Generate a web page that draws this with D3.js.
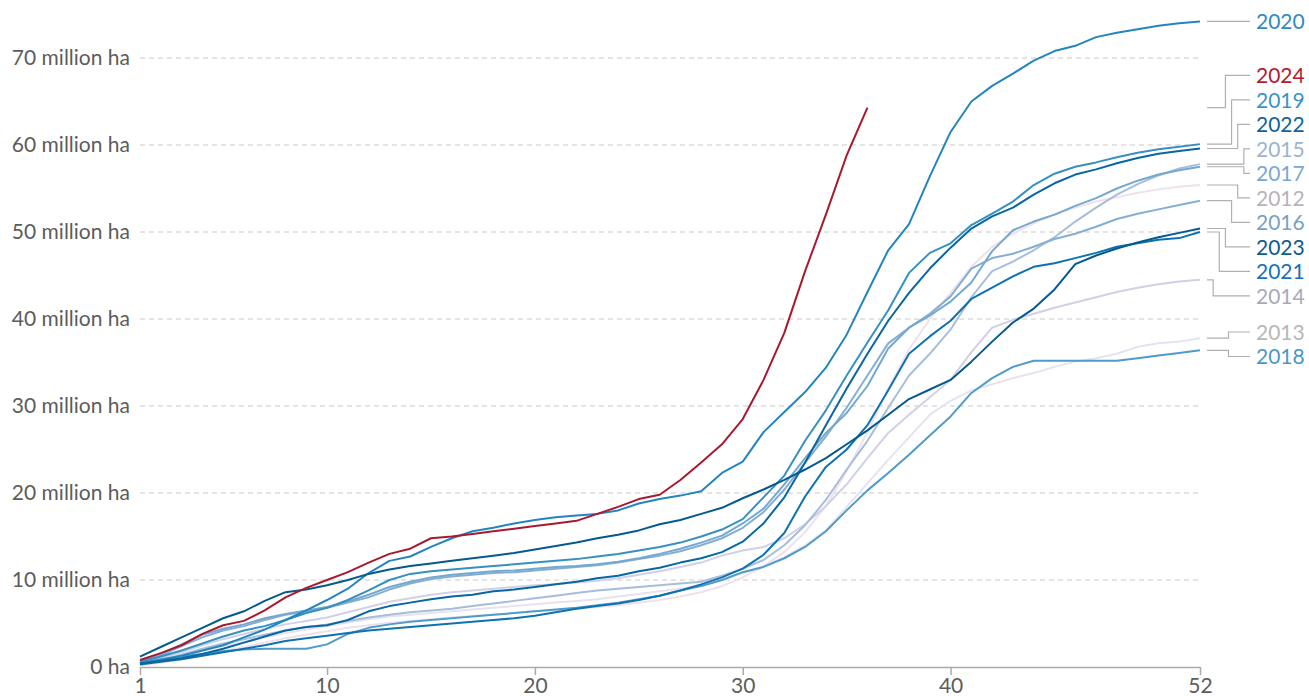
<!DOCTYPE html>
<html>
<head>
<meta charset="utf-8">
<script src="https://d3js.org/d3.v7.min.js"></script>
<style>
  body { margin: 0; background: #fff; }
  text { font-family: Lato, "Open Sans", sans-serif; }
</style>
</head>
<body>
<svg width="1309" height="696"></svg>
<script>
// cumulative area, million ha, by week
const years = [2012, 2013, 2014, 2015, 2016, 2017, 2018, 2019, 2020, 2021, 2022, 2023, 2024];

const v2012 = [0.2,0.5,0.9,1.3,1.8,2.3,2.8,3.3,3.7,4.1,4.5,4.8,5.1,5.3,5.5,5.7,5.9,6.0,6.2,6.4,6.5,6.7,6.9,7.1,7.4,7.7,8.1,8.6,9.3,10.3,11.6,13.2,15.5,18.5,22.5,27.0,32.0,36.5,40.0,43.0,46.0,48.3,49.8,51.0,52.0,52.8,53.5,54.0,54.5,54.9,55.2,55.4];
const v2013 = [0.3,0.7,1.2,1.8,2.4,2.9,3.4,3.9,4.3,4.7,5.1,5.5,5.8,6.0,6.2,6.4,6.6,6.8,7.0,7.2,7.4,7.6,7.8,8.1,8.4,8.7,9.0,9.3,10.0,10.8,11.6,12.6,14.0,15.7,18.4,21.1,23.8,26.4,29.0,30.6,31.8,32.5,33.2,33.8,34.5,35.1,35.5,36.0,36.8,37.2,37.4,37.8];
const v2014 = [0.4,1.0,1.7,2.5,3.2,3.8,4.4,4.9,5.3,5.7,6.3,6.9,7.5,7.9,8.3,8.6,8.8,9.0,9.2,9.4,9.5,9.7,9.9,10.2,10.6,11.0,11.5,12.0,12.8,13.4,13.8,14.8,16.4,18.5,21.0,24.0,26.9,29.0,31.0,33.0,36.2,39.0,39.9,40.6,41.3,41.9,42.5,43.1,43.6,44.0,44.3,44.5];
const v2015 = [0.3,0.8,1.4,2.1,2.7,3.2,3.7,4.2,4.6,4.9,5.3,5.7,6.0,6.3,6.5,6.7,7.0,7.3,7.6,7.9,8.2,8.5,8.8,9.0,9.2,9.4,9.6,9.8,10.5,11.3,12.3,14.0,16.3,19.2,22.7,26.0,29.8,33.5,36.0,38.8,42.5,45.5,46.6,47.9,49.4,51.2,52.8,54.3,55.5,56.5,57.3,57.8];
const v2016 = [0.5,1.3,2.4,3.4,4.2,4.7,5.4,6.0,6.4,6.8,7.4,8.0,8.9,9.6,10.1,10.4,10.6,10.8,10.9,11.1,11.3,11.5,11.7,12.0,12.4,12.8,13.3,14.0,14.8,16.0,17.8,20.4,23.5,26.5,29.8,33.5,37.2,39.0,40.6,42.6,45.8,47.0,47.5,48.3,49.2,49.8,50.6,51.5,52.1,52.6,53.1,53.6];
const v2017 = [0.6,1.5,2.6,3.7,4.4,4.9,5.6,6.1,6.5,6.9,7.5,8.3,9.2,9.8,10.3,10.6,10.8,11.0,11.1,11.3,11.5,11.6,11.8,12.1,12.5,13.0,13.6,14.3,15.1,16.5,18.2,21.0,24.0,26.9,29.2,32.3,36.6,39.0,40.4,42.0,44.2,47.8,50.2,51.2,52.0,53.0,53.9,55.0,55.9,56.6,57.1,57.5];
const v2018 = [0.5,0.9,1.2,1.5,1.8,2.0,2.1,2.1,2.1,2.6,3.8,4.5,4.9,5.2,5.4,5.6,5.8,6.0,6.2,6.4,6.6,6.8,7.1,7.4,7.8,8.2,8.8,9.3,10.0,10.9,11.5,12.5,13.8,15.6,18.0,20.3,22.3,24.4,26.6,28.8,31.5,33.2,34.5,35.2,35.2,35.2,35.2,35.2,35.5,35.8,36.1,36.4];
const v2019 = [0.6,1.2,1.9,2.7,3.5,4.2,4.7,5.4,6.2,6.8,7.7,8.8,10.0,10.7,11.0,11.2,11.4,11.6,11.8,12.0,12.2,12.4,12.7,13.0,13.4,13.8,14.3,15.0,15.8,17.0,19.5,22.0,26.0,29.5,33.5,37.3,41.0,45.3,47.6,48.7,50.8,52.1,53.5,55.4,56.7,57.5,58.0,58.6,59.1,59.5,59.8,60.1];
const v2020 = [0.4,0.8,1.3,1.9,2.5,3.4,4.3,5.4,6.5,7.7,9.0,10.8,12.2,12.7,13.8,14.8,15.6,16.0,16.5,16.9,17.2,17.4,17.6,18.0,18.8,19.3,19.7,20.2,22.3,23.6,27.0,29.3,31.6,34.4,38.2,43.1,47.9,50.9,56.4,61.5,65.0,66.8,68.2,69.7,70.8,71.4,72.4,72.9,73.3,73.7,74.0,74.2];
const v2021 = [0.3,0.6,0.9,1.3,1.7,2.1,2.5,3.0,3.3,3.6,3.9,4.2,4.4,4.6,4.8,5.0,5.2,5.4,5.6,5.9,6.3,6.7,7.0,7.3,7.7,8.2,8.8,9.5,10.3,11.3,12.9,15.4,19.6,23.0,25.0,27.8,31.8,36.0,38.0,39.8,42.3,43.6,44.9,46.0,46.4,47.0,47.6,48.3,48.7,49.1,49.3,50.0];
const v2022 = [0.4,0.7,1.0,1.5,2.1,2.8,3.5,4.2,4.6,4.8,5.4,6.4,7.0,7.4,7.8,8.1,8.3,8.7,8.9,9.2,9.5,9.8,10.2,10.5,11.0,11.4,12.0,12.5,13.2,14.4,16.5,19.5,23.5,27.8,32.0,36.0,39.8,43.0,45.8,48.2,50.4,51.8,52.8,54.3,55.6,56.6,57.2,57.9,58.5,59.0,59.3,59.6];
const v2023 = [1.2,2.3,3.4,4.5,5.6,6.4,7.6,8.6,8.9,9.4,10.0,10.7,11.2,11.6,11.9,12.2,12.5,12.8,13.1,13.5,13.9,14.3,14.8,15.2,15.7,16.4,16.9,17.6,18.3,19.4,20.4,21.5,22.7,24.0,25.6,27.2,29.0,30.8,31.9,33.0,35.1,37.4,39.6,41.2,43.4,46.3,47.3,48.1,48.8,49.4,49.9,50.4];
const v2024 = [0.8,1.6,2.5,3.8,4.8,5.3,6.5,8.0,9.1,10.0,10.9,12.0,13.0,13.6,14.8,15.0,15.3,15.6,15.9,16.2,16.5,16.8,17.6,18.4,19.3,19.8,21.5,23.5,25.6,28.5,33.0,38.4,45.5,52.0,58.8,64.3];

const seriesValues = [v2012, v2013, v2014, v2015, v2016, v2017, v2018, v2019, v2020, v2021, v2022, v2023, v2024];

const weekTicks = [1, 10, 20, 30, 40, 52];
const areaTicks = [0, 10, 20, 30, 40, 50, 60, 70];

const lineColors = ['#efe1ec','#e6e2ef','#d0d1e6','#a6bddb','#86aed3','#74a9cf','#4f9bc9','#3690c0','#2385bd','#0f72b0','#0866a2','#045a8d','#a8192f'];
const labelColors = ['#b8b2b8','#b8b6bb','#a8a8bc','#9fb3cc','#7a9fc4','#7aa8d0','#4a98c8','#3a93c8','#2f8ac0','#1a72b4','#0f62a0','#0d5a8c','#b01c2e'];

const series = years.map((yr, i) => ({
  year: yr,
  values: seriesValues[i].map((v, k) => ({week: k + 1, value: v})),
  color: lineColors[i],
  labelColor: labelColors[i]
}));

const svg = d3.select('svg');
const x = d3.scaleLinear().domain([1, 52]).range([140, 1200]);
const y = d3.scaleLinear().domain([0, 70]).range([667, 58]);

// gridlines + y labels
const yAxis = svg.append('g')
  .attr('transform', 'translate(140,0)')
  .call(d3.axisLeft(y).tickValues(areaTicks).tickSize(0).tickPadding(10)
    .tickFormat(d => d === 0 ? '0 ha' : d + ' million ha'));
yAxis.select('.domain').remove();
yAxis.selectAll('text')
  .style('font-size', '21px')
  .style('fill', '#5c5c5c')
  .style('font-family', 'Lato, sans-serif');

svg.append('g')
  .selectAll('line')
  .data(areaTicks.filter(d => d > 0))
  .enter()
  .append('line')
    .attr('x1', 140)
    .attr('x2', 1200)
    .attr('y1', d => y(d))
    .attr('y2', d => y(d))
    .attr('stroke', '#dcdcdc')
    .attr('stroke-width', 1.3)
    .attr('stroke-dasharray', '5,4');

// x axis
const xAxis = svg.append('g')
  .attr('transform', 'translate(0,' + y(0) + ')')
  .call(d3.axisBottom(x).tickValues(weekTicks).tickSize(8).tickSizeOuter(0).tickPadding(3));
xAxis.select('.domain').attr('stroke', '#aaa').attr('stroke-width', 1.5);
xAxis.selectAll('.tick line').attr('stroke', '#aaa').attr('stroke-width', 1.5);
xAxis.selectAll('text')
  .style('font-size', '21px')
  .style('fill', '#5c5c5c')
  .style('font-family', 'Lato, sans-serif');

// lines
const line = d3.line()
  .x(d => x(d.week))
  .y(d => y(d.value));

svg.append('g')
  .selectAll('path')
  .data(series)
  .enter()
  .append('path')
    .attr('d', d => line(d.values))
    .attr('fill', 'none')
    .attr('stroke', d => d.color)
    .attr('stroke-width', 2)
    .attr('stroke-linejoin', 'round');

// end labels, dodged so they don't overlap
const gap = 24.5;
const items = series.map(s => ({s: s, target: y(s.values[s.values.length - 1].value)}))
  .sort((a, b) => a.target - b.target);

let groups = items.map(it => ({items: [it], top: it.target}));
function place(g) {
  const m = d3.mean(g.items, d => d.target);
  g.top = m - (g.items.length - 1) * gap / 2;
}
let merged = true;
while (merged) {
  merged = false;
  for (let i = 0; i < groups.length - 1; i++) {
    const a = groups[i], b = groups[i + 1];
    if (a.top + a.items.length * gap > b.top) {
      a.items = a.items.concat(b.items);
      place(a);
      groups.splice(i + 1, 1);
      merged = true;
      break;
    }
  }
}

const x0 = x(52) + 7, x1 = 1250;
groups.forEach(g => {
  g.items.forEach((it, i) => { it.labelY = g.top + i * gap; });
  const up = g.items.filter(it => it.labelY < it.target - 0.5);
  const down = g.items.filter(it => !(it.labelY < it.target - 0.5));
  const M = Math.max(up.length, down.length);
  up.forEach((it, i) => { it.rank = up.length - 1 - i; });
  down.forEach((it, i) => { it.rank = i; });
  g.items.forEach(it => { it.elbow = x0 + (x1 - x0) * (M - it.rank) / (M + 1); });
});

const lab = svg.append('g');
lab.selectAll('path')
  .data(items)
  .enter()
  .append('path')
    .attr('d', d => 'M' + x0 + ',' + d.target + 'H' + d.elbow + 'V' + d.labelY + 'H' + x1)
    .attr('fill', 'none')
    .attr('stroke', '#b0b0b0')
    .attr('stroke-width', 1.2);

lab.selectAll('text')
  .data(items)
  .enter()
  .append('text')
    .attr('x', 1256)
    .attr('y', d => d.labelY)
    .attr('dy', '0.36em')
    .style('font-size', '21px')
    .style('fill', d => d.s.labelColor)
    .text(d => d.s.year);
</script>
</body>
</html>
